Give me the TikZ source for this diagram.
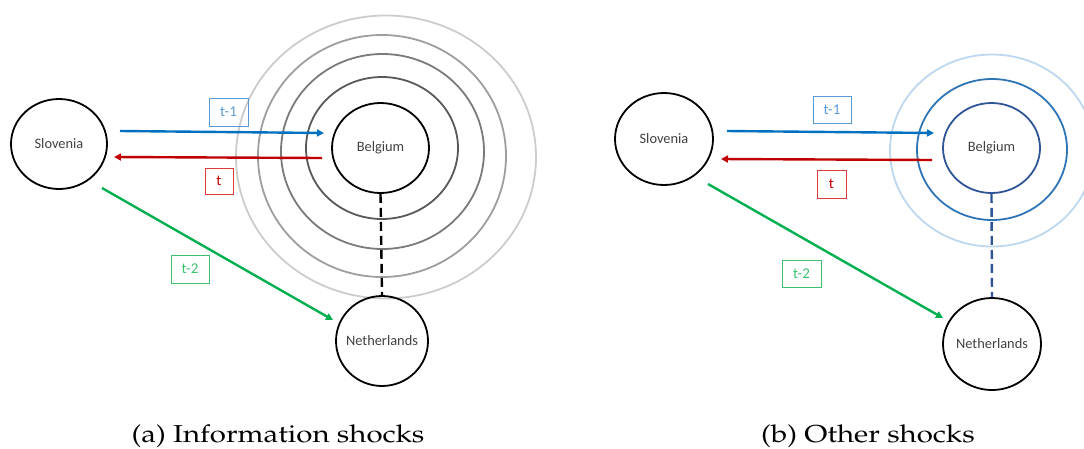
\documentclass[tikz,border=0pt]{standalone}
\usepackage{fontspec}
\usepackage[T1,TU]{fontenc}
\newfontfamily\calib{Carlito}
\usetikzlibrary{shapes.geometric,arrows.meta}
\definecolor{cblue}{HTML}{0070C0}
\definecolor{cred}{HTML}{C00000}
\definecolor{cgreen}{HTML}{00B050}
\definecolor{lblue}{HTML}{5B9BD5}
\definecolor{lred}{HTML}{E03C3C}
\definecolor{lgreen}{HTML}{3CC070}
\definecolor{txt}{HTML}{404040}
\definecolor{dblue}{HTML}{2F5597}
\definecolor{mblue}{HTML}{2E75B6}
\definecolor{pblue}{HTML}{BDD7EE}
\tikzset{
  country/.style={ellipse,draw=black,line width=1.8pt,inner xsep=-10pt,inner ysep=0pt,font=\calib\fontsize{14.4}{16}\selectfont,text=txt},
  ring/.style={ellipse,draw,line width=1.8pt,inner sep=0pt},
  arr/.style={line width=2.4pt,-{Triangle[length=7pt,width=7pt]}},
  lab/.style={draw,line width=0.9pt,inner sep=0pt,font=\calib\fontsize{15}{17}\selectfont},
  dline/.style={line width=2.4pt,dash pattern=on 9pt off 5pt},
  captxt/.style={font=\usefont{T1}{ppl}{m}{n}\fontsize{24.5}{28}\selectfont,text=black,anchor=base,xscale=1.2,inner sep=0pt}
}
\begin{document}
\begin{tikzpicture}[x=1pt,y=-1pt]
\useasboundingbox (0,0) rectangle (1084,448);
% ---------- panel (a)
\node[ring,draw=black!20,minimum width=300pt,minimum height=283pt] (ra4) at (386,157) {};
\node[ring,draw=black!38,minimum width=248pt,minimum height=242pt] (ra3) at (382,156) {};
\node[ring,draw=black!52,minimum width=203pt,minimum height=195pt] (ra2) at (382.5,151.5) {};
\node[ring,draw=black!65,minimum width=152pt,minimum height=142pt] (ra1) at (382,148) {};
\node[country,minimum width=96pt,minimum height=90pt] (sloA) at (59,144) {Slovenia};
\node[country,minimum width=97pt,minimum height=90pt] (belA) at (380.5,148) {Belgium};
\node[country,minimum width=92pt,minimum height=90pt] (nedA) at (382,341) {Netherlands};
\coordinate (a1s) at (120,131);
\coordinate (a1e) at (324,133);
\coordinate (a2s) at (322,158);
\coordinate (a2e) at (114,157);
\coordinate (a3s) at (102,188);
\coordinate (a3e) at (333,320);
\draw[arr,cblue] (a1s) -- (a1e);
\draw[arr,cred] (a2s) -- (a2e);
\draw[arr,cgreen] (a3s) -- (a3e);
\draw[dline,black] (belA.south) -- (nedA.north);
\node[lab,draw=lblue,text=lblue,minimum width=39pt,minimum height=28pt] (la1) at (228.5,112) {t-1};
\node[lab,draw=lred,text=cred,minimum width=28pt,minimum height=26pt] (la2) at (219,181) {t};
\node[lab,draw=lgreen,text=lgreen,minimum width=38pt,minimum height=28pt] (la3) at (190,269) {t-2};
\node[captxt] (capA) at (278,442) {(a) Information shocks};
% ---------- panel (b)
\node[ring,draw=pblue,minimum width=204pt,minimum height=192pt] (rb2) at (992,150.5) {};
\node[ring,draw=mblue,minimum width=150pt,minimum height=141pt] (rb1) at (992,149.5) {};
\node[country,minimum width=98pt,minimum height=92pt] (sloB) at (664,139) {Slovenia};
\node[country,draw=dblue,minimum width=97pt,minimum height=90pt] (belB) at (991.5,148) {Belgium};
\node[country,minimum width=98pt,minimum height=92pt] (nedB) at (992,344) {Netherlands};
\coordinate (b1s) at (727,131);
\coordinate (b1e) at (934,133);
\coordinate (b2s) at (932,160);
\coordinate (b2e) at (721,159);
\coordinate (b3s) at (708,184);
\coordinate (b3e) at (943,318);
\draw[arr,cblue] (b1s) -- (b1e);
\draw[arr,cred] (b2s) -- (b2e);
\draw[arr,cgreen] (b3s) -- (b3e);
\draw[dline,dblue] (belB.south) -- (nedB.north);
\node[lab,draw=lblue,text=lblue,minimum width=38pt,minimum height=27pt] (lb1) at (832,109.5) {t-1};
\node[lab,draw=lred,text=cred,minimum width=29pt,minimum height=28pt] (lb2) at (831.5,184) {t};
\node[lab,draw=lgreen,text=lgreen,minimum width=39pt,minimum height=27pt] (lb3) at (801.5,273.5) {t-2};
\node[captxt] (capB) at (868,442) {(b) Other shocks};
\end{tikzpicture}
\end{document}
